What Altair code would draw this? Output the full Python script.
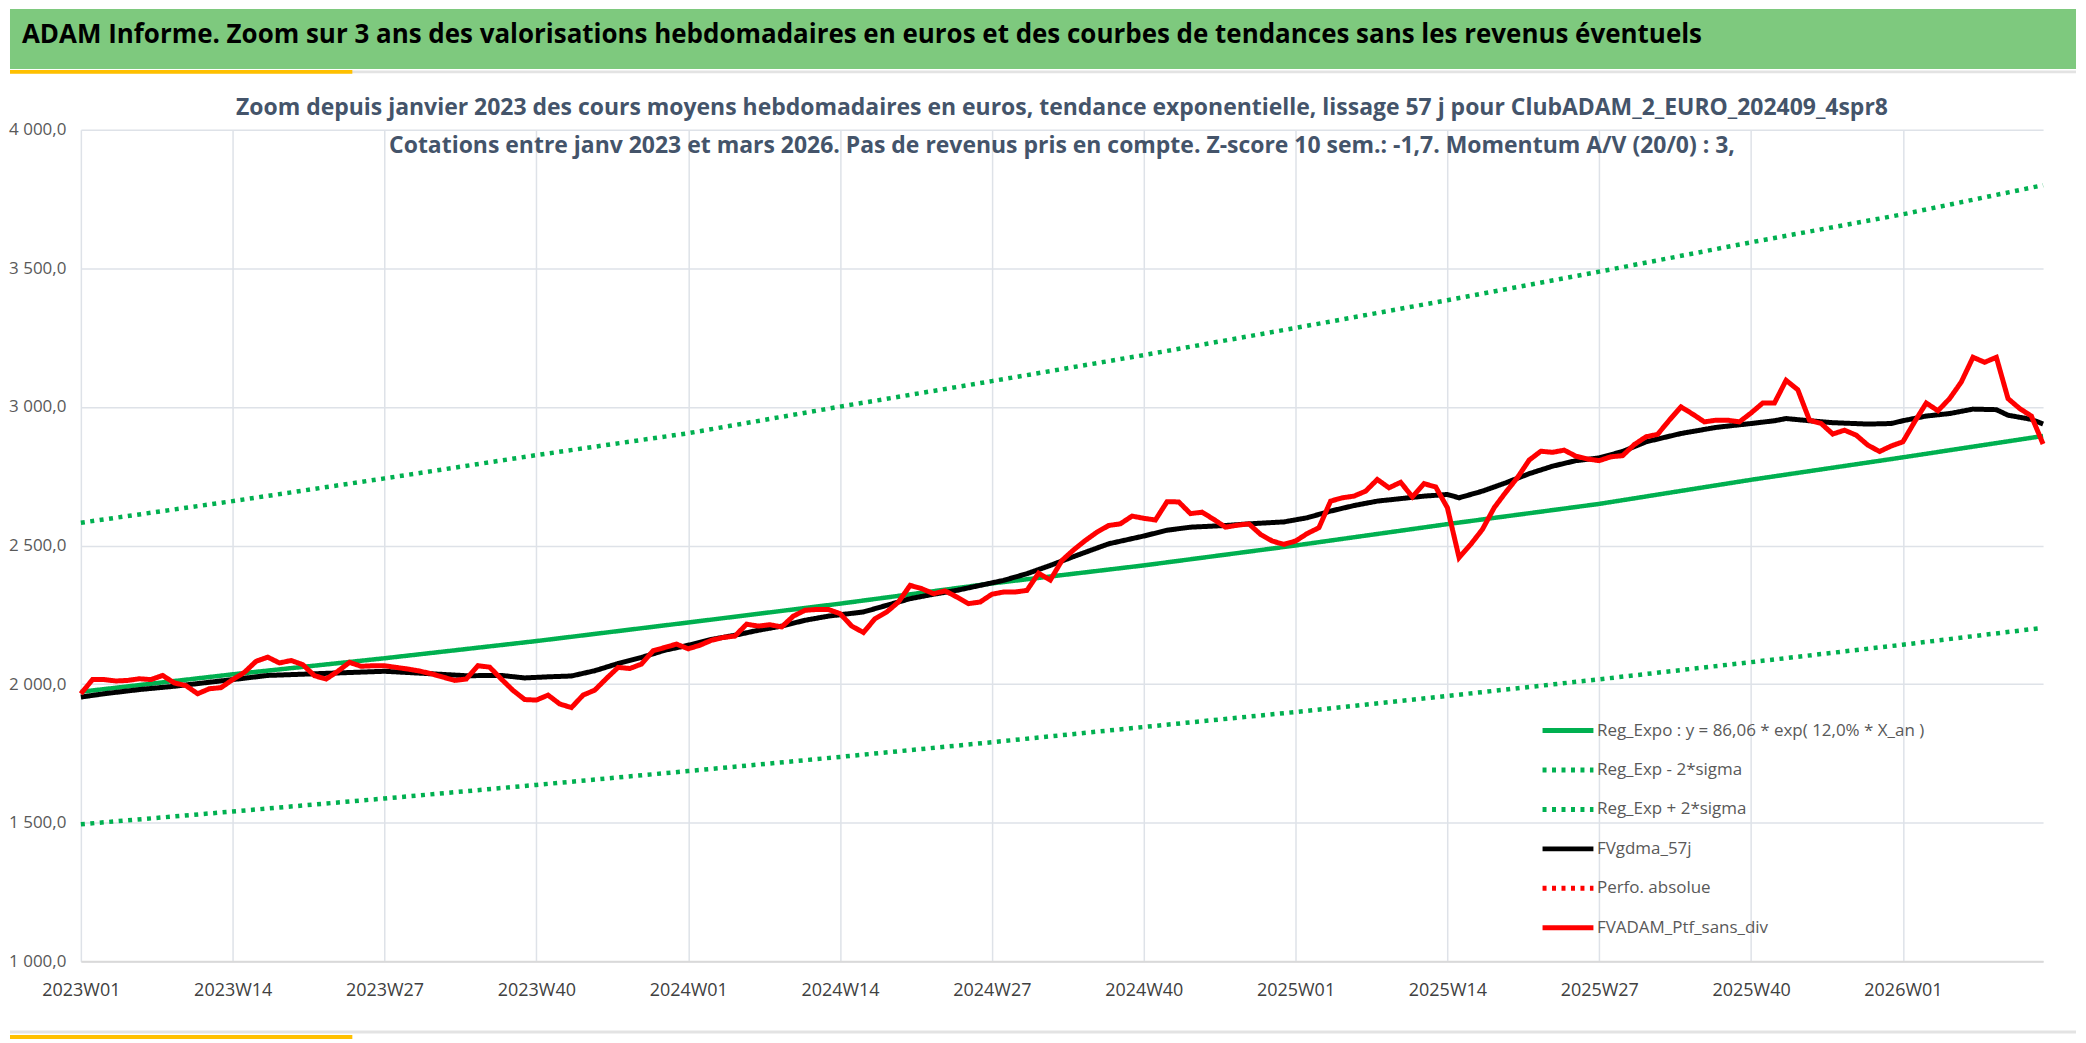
import altair as alt
import pandas as pd

# ---------------- data ----------------
week_labels = ["2023W01", "2023W14", "2023W27", "2023W40", "2024W01", "2024W14",
               "2024W27", "2024W40", "2025W01", "2025W14", "2025W27", "2025W40", "2026W01"]
label_idx = [0, 13, 26, 39, 52, 65, 78, 91, 104, 117, 130, 143, 156]

# trend lines (read every 13 weeks + last week)
trend_idx = [0, 13, 26, 39, 52, 65, 78, 91, 104, 117, 130, 143, 156, 168]
reg_expo = [1972, 2035, 2093, 2155, 2222, 2290, 2363, 2428, 2500, 2577, 2650, 2737, 2818, 2895]
reg_minus = [1494, 1540, 1587, 1636, 1686, 1737, 1790, 1845, 1899, 1957, 2017, 2079, 2142, 2203]
reg_plus = [2582, 2660, 2742, 2826, 2905, 3001, 3093, 3187, 3285, 3385, 3488, 3594, 3695, 3800]

# smoothed line (read at sampled weeks)
gdma_idx = [0, 2, 5, 8, 13, 16, 20, 24, 26, 30, 33, 36, 38, 40, 42, 44, 46, 48, 50, 52, 54, 56,
            58, 60, 62, 64, 67, 69, 71, 73, 75, 77, 79, 81, 83, 85, 88, 91, 93, 95, 98, 100, 103,
            105, 107, 109, 111, 113, 115, 117, 118, 120, 122, 124, 126, 128, 130, 132, 134, 137,
            140, 143, 145, 146, 148, 150, 153, 155, 156, 158, 160, 162, 164, 165, 167, 168]
gdma = [1953, 1965, 1980, 1992, 2016, 2031, 2037, 2043, 2046, 2037, 2030, 2031, 2022, 2026, 2029,
        2048, 2074, 2096, 2122, 2140, 2161, 2176, 2194, 2209, 2230, 2245, 2260, 2284, 2308, 2324,
        2338, 2356, 2374, 2398, 2428, 2460, 2506, 2534, 2555, 2566, 2572, 2578, 2585, 2600, 2624,
        2644, 2660, 2669, 2678, 2684, 2672, 2696, 2726, 2759, 2786, 2806, 2816, 2839, 2874, 2904,
        2926, 2940, 2950, 2958, 2950, 2943, 2938, 2940, 2950, 2967, 2976, 2992, 2990, 2970, 2955,
        2938]

# weekly portfolio value, 2023W01 .. 2026W13
ptf = [1965, 2016, 2016, 2011, 2013, 2019, 2016, 2031, 2004, 1994, 1965, 1983, 1987, 2016, 2042,
       2082, 2097, 2076, 2085, 2070, 2030, 2018, 2046, 2078, 2064, 2066, 2066, 2060, 2054, 2047,
       2037, 2025, 2013, 2018, 2066, 2061, 2018, 1977, 1944, 1942, 1960, 1928, 1915, 1960, 1978,
       2020, 2060, 2056, 2072, 2120, 2132, 2144, 2127, 2140, 2158, 2168, 2173, 2216, 2209, 2214,
       2206, 2245, 2266, 2269, 2269, 2254, 2209, 2186, 2236, 2260, 2296, 2356, 2344, 2326, 2336,
       2314, 2290, 2296, 2324, 2332, 2332, 2338, 2400, 2375, 2446, 2484, 2518, 2548, 2572, 2578,
       2606, 2598, 2592, 2658, 2657, 2615, 2620, 2594, 2566, 2573, 2578, 2540, 2516, 2504, 2516,
       2543, 2564, 2660, 2672, 2678, 2696, 2738, 2708, 2728, 2675, 2723, 2711, 2636, 2456, 2504,
       2558, 2636, 2692, 2745, 2808, 2840, 2836, 2844, 2822, 2812, 2806, 2820, 2824, 2864, 2892,
       2901, 2952, 3000, 2974, 2946, 2952, 2952, 2946, 2978, 3014, 3014, 3096, 3062, 2952, 2940,
       2902, 2916, 2898, 2862, 2839, 2859, 2874, 2946, 3014, 2986, 3030, 3090, 3179, 3161, 3179,
       3030, 2994, 2967, 2866]

series = ["Reg_Expo : y = 86,06 * exp( 12,0% *  X_an )", "Reg_Exp - 2*sigma", "Reg_Exp + 2*sigma",
          "FVgdma_57j", "Perfo. absolue", "FVADAM_Ptf_sans_div"]
colors = ["#00B050", "#00B050", "#00B050", "#000000", "#FF0000", "#FF0000"]
dashes = [[1, 0], [4, 5.5], [4, 5.5], [1, 0], [4, 5.5], [1, 0]]

title_text = ("ADAM Informe. Zoom sur 3 ans des valorisations hebdomadaires en euros et des courbes "
              "de tendances sans les revenus éventuels")
sub1 = ("Zoom depuis janvier 2023 des cours moyens hebdomadaires en euros, tendance exponentielle, "
        "lissage 57 j pour ClubADAM_2_EURO_202409_4spr8")
sub2 = ("Cotations entre janv 2023 et mars 2026. Pas de revenus pris en compte. Z-score 10 sem.: -1,7. "
        "Momentum A/V (20/0) : 3,")

# ---------------- build tables ----------------
def frame(idx, vals, name):
    return pd.DataFrame({"i": idx, "v": vals, "serie": name})

trend_df = pd.concat([frame(trend_idx, reg_expo, series[0]),
                      frame(trend_idx, reg_minus, series[1]),
                      frame(trend_idx, reg_plus, series[2])])
gdma_df = frame(gdma_idx, gdma, series[3])
ptf_df = frame(list(range(len(ptf))), ptf, series[5])

W, H = 1966, 833
FONT = "Open Sans, sans-serif"
GRID = "#DEE2E8"

lab_js = "[" + ",".join("'%s'" % s for s in week_labels) + "]"

x_enc = alt.X("i:Q",
              scale=alt.Scale(domain=[0, 168], nice=False, zero=False),
              axis=alt.Axis(values=label_idx, labelExpr=lab_js + "[round(datum.value/13)]",
                            title=None, grid=True, gridColor=GRID, gridWidth=1.5,
                            domainColor="#D9D9D9", domainWidth=2, ticks=False, labelFlush=False,
                            labelOverlap=False,
                            labelFont=FONT, labelFontSize=18, labelColor="#404040",
                            labelPadding=20))
y_enc = alt.Y("v:Q",
              scale=alt.Scale(domain=[1000, 4000], nice=False, zero=False),
              axis=alt.Axis(values=[1000, 1500, 2000, 2500, 3000, 3500, 4000],
                            labelExpr="replace(replace(format(datum.value, ',.1f'), ',', ' '), '.', ',')",
                            title=None, grid=True, gridColor=GRID, gridWidth=1.5, domain=False,
                            ticks=False, labelFont=FONT, labelFontSize=17, labelColor="#595959",
                            labelPadding=15))
leg = dict(orient="none", legendX=1462, legendY=574, title=None,
           symbolType="stroke", symbolSize=2600, symbolStrokeWidth=5,
           labelFont=FONT, labelFontSize=17, labelColor="#595959",
           labelLimit=1000, rowPadding=1.5, padding=0, labelOffset=1)
color_enc = alt.Color("serie:N", scale=alt.Scale(domain=series, range=colors),
                      legend=alt.Legend(**leg))
dash_enc = alt.StrokeDash("serie:N", scale=alt.Scale(domain=series, range=dashes),
                          legend=alt.Legend(**leg))

trend = alt.Chart(trend_df).mark_line(strokeWidth=4.5).encode(x=x_enc, y=y_enc, color=color_enc,
                                                              strokeDash=dash_enc, detail="serie:N")
smooth = alt.Chart(gdma_df).mark_line(strokeWidth=5).encode(x="i:Q", y="v:Q", color="serie:N",
                                                            strokeDash="serie:N")
ptf_line = alt.Chart(ptf_df).mark_line(strokeWidth=5).encode(x="i:Q", y="v:Q", color="serie:N",
                                                             strokeDash="serie:N")

one = pd.DataFrame({"t": [0]})
banner = alt.Chart(one).mark_rect(color="#7EC97E").encode(
    x=alt.value(-71), x2=alt.value(W + 33), y=alt.value(-121), y2=alt.value(-61))
banner_txt = alt.Chart(pd.DataFrame({"t": [title_text]})).mark_text(
    align="left", baseline="middle", font=FONT, fontSize=26, fontWeight="bold", color="#000000"
).encode(x=alt.value(-59), y=alt.value(-95), text="t:N")
sep = alt.Chart(one).mark_rule(color="#E3E3E3", strokeWidth=3).encode(
    x=alt.value(-71), x2=alt.value(W + 33), y=alt.value(-58))
yellow = alt.Chart(one).mark_rule(color="#FFC000", strokeWidth=4).encode(
    x=alt.value(-71), x2=alt.value(272), y=alt.value(-58))
sep_b = alt.Chart(one).mark_rule(color="#E3E3E3", strokeWidth=3).encode(
    x=alt.value(-71), x2=alt.value(W + 33), y=alt.value(H + 71))
yellow_b = alt.Chart(one).mark_rule(color="#FFC000", strokeWidth=4).encode(
    x=alt.value(-71), x2=alt.value(272), y=alt.value(H + 76))
s1 = alt.Chart(pd.DataFrame({"t": [sub1]})).mark_text(
    align="center", baseline="middle", font=FONT, fontSize=23, fontWeight="bold", color="#44546A"
).encode(x=alt.value(W / 2), y=alt.value(-22), text="t:N")
s2 = alt.Chart(pd.DataFrame({"t": [sub2]})).mark_text(
    align="center", baseline="middle", font=FONT, fontSize=23, fontWeight="bold", color="#44546A"
).encode(x=alt.value(W / 2), y=alt.value(16), text="t:N")

chart = alt.layer(banner, sep, yellow, sep_b, yellow_b, banner_txt, s1, s2,
                  trend, smooth, ptf_line).properties(
    width=W, height=H, padding=0, background="white"
).configure_view(stroke=None)

chart.save("out.html", embed_options={"renderer": "svg", "actions": False})
